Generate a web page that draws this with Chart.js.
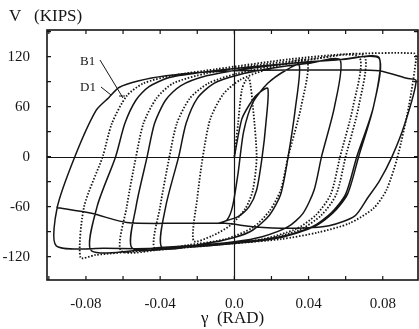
<!DOCTYPE html>
<html><head><meta charset="utf-8">
<script src="https://cdn.jsdelivr.net/npm/chart.js@4/dist/chart.umd.min.js"></script>
<style>html,body{margin:0;padding:0;background:#fff}#wrap{width:419px;height:329px;position:relative}</style>
</head><body><div id="wrap"><canvas id="c"></canvas></div>
<script>
// ---- tick labels ----
const xTickValues = [-0.08, -0.04, 0, 0.04, 0.08];
const xTickLabels = ['-0.08', '-0.04', '0.0', '0.04', '0.08'];
const xMinorTicks = [-0.1, -0.08, -0.06, -0.04, -0.02, 0, 0.02, 0.04, 0.06, 0.08];
const yTickValues = [-120, -60, 0, 60, 120];
const yTickLabels = ['-120', '-60', '0', '60', '120'];
const yMinorTicks = [-120, -90, -60, -30, 0, 30, 60, 90, 120, 150];

// ---- specimen B1 (solid): shear strain (rad) and shear (kips) ----
const b1Gamma = [0, 0.004, 0.008, 0.012, 0.018, 0.017, 0.015, 0.012, 0.008, 0.002, -0.009,
  -0.004, -0.001, 0.002, 0.005, 0.010, 0.018, 0.028, 0.035,
  0.033, 0.029, 0.025, 0.019, 0.010, 0.0, -0.015, -0.039,
  -0.037, -0.030, -0.026, -0.020, -0.011, 0.002, 0.020, 0.040, 0.057,
  0.054, 0.047, 0.043, 0.037, 0.029, 0.015, 0.0, -0.025, -0.055,
  -0.053, -0.047, -0.043, -0.037, -0.029, -0.015, 0.005, 0.035, 0.060, 0.078,
  0.075, 0.066, 0.060, 0.052, 0.042, 0.025, 0.0, -0.040, -0.077,
  -0.074, -0.064, -0.059, -0.053, -0.046, -0.035, -0.015, 0.020, 0.055, 0.078,
  0.075, 0.067, 0.061, 0.053, 0.043, 0.025, 0.0, -0.040, -0.070, -0.096,
  -0.0955, -0.086, -0.0747, -0.0676, -0.0622, -0.0514, -0.0368, -0.019, 0.0, 0.030, 0.060, 0.078, 0.093, 0.098,
  0.092, 0.085, 0.078, 0.072, 0.065, 0.051, 0.030, 0.010, -0.005, -0.030, -0.058, -0.077, -0.096];
const b1Shear = [0, 45, 62, 74, 82, 40, 0, -40, -60, -72, -80,
  -76, -60, -20, 30, 65, 88, 104, 110,
  60, 0, -45, -70, -88, -97, -104, -109,
  -60, 0, 40, 70, 88, 98, 106, 112, 116,
  60, 0, -40, -68, -84, -96, -102, -107, -110,
  -60, 0, 40, 68, 85, 97, 105, 113, 117, 119,
  60, 0, -45, -68, -84, -96, -103, -109, -113,
  -60, 0, 40, 68, 84, 95, 102, 110, 116, 118,
  60, 0, -45, -68, -84, -97, -104, -110, -110, -107,
  -61, 0, 55, 71, 83, 91, 97, 101, 103, 104, 104, 103, 94, 91,
  40, 0, -30, -49, -71, -83, -86, -84, -80, -80, -79, -68, -61];

// ---- specimen D1 (dotted) ----
const d1Gamma = [0, 0.002, 0.004, 0.006, 0.008, 0.010, 0.012, 0.010, 0.006, -0.002, -0.012, -0.022,
  -0.020, -0.017, -0.013, -0.006, 0.003, 0.018, 0.039,
  0.036, 0.029, 0.025, 0.019, 0.010, -0.005, -0.025, -0.043,
  -0.040, -0.035, -0.031, -0.024, -0.014, 0.002, 0.030, 0.067,
  0.064, 0.057, 0.052, 0.044, 0.033, 0.015, -0.010, -0.035, -0.061,
  -0.058, -0.053, -0.049, -0.042, -0.033, -0.015, 0.010, 0.045, 0.070,
  0.067, 0.060, 0.055, 0.047, 0.035, 0.015, -0.015, -0.050, -0.075, -0.083,
  -0.081, -0.071, -0.066, -0.058, -0.049, -0.034, -0.010, 0.030, 0.060, 0.097,
  0.098, 0.094, 0.088, 0.082, 0.075, 0.062, 0.045, 0.025, 0.0, -0.030];
const d1Shear = [0, 40, 80, 91, 94, 60, 0, -40, -62, -82, -95, -101,
  -50, 0, 45, 75, 92, 105, 115,
  60, 0, -40, -65, -85, -99, -106, -110,
  -60, 0, 40, 70, 88, 100, 112, 120,
  60, 0, -45, -70, -87, -99, -106, -110, -113,
  -60, 0, 40, 70, 88, 100, 109, 118, 121,
  60, 0, -45, -70, -88, -100, -107, -113, -118, -121,
  -60, 0, 40, 73, 88, 97, 105, 117, 123, 124,
  118, 60, 0, -40, -62, -80, -91, -99, -104, -109];

const toXY = (g, v) => g.map((x, i) => ({x: x, y: v[i]}));
const SERIF = '"Liberation Serif", "DejaVu Serif", serif';
const INK = '#151515';

const decor = {
  id: 'decor',
  beforeDatasetsDraw(chart) {
    const {ctx, chartArea: a, scales: {x, y}} = chart;
    ctx.save();
    ctx.strokeStyle = INK; ctx.lineWidth = 1.2;
    ctx.beginPath();
    const y0 = Math.round(y.getPixelForValue(0)) + 0.5;
    const x0 = Math.round(x.getPixelForValue(0)) + 0.5;
    ctx.moveTo(a.left, y0); ctx.lineTo(a.right, y0);
    ctx.moveTo(x0, a.top); ctx.lineTo(x0, a.bottom);
    ctx.stroke();
    ctx.restore();
  },
  afterDatasetsDraw(chart) {
    const {ctx, chartArea: a, scales: {x, y}} = chart;
    ctx.save();
    ctx.strokeStyle = INK; ctx.lineWidth = 1.6;
    ctx.strokeRect(a.left, a.top, a.right - a.left, a.bottom - a.top);
    ctx.lineWidth = 1.2;
    ctx.beginPath();
    xMinorTicks.forEach(v => {
      const px = x.getPixelForValue(v);
      if (px <= a.left + 1 || px >= a.right - 1) return;
      ctx.moveTo(px, a.bottom); ctx.lineTo(px, a.bottom - 4);
      ctx.moveTo(px, a.top); ctx.lineTo(px, a.top + 4);
    });
    yMinorTicks.forEach(v => {
      const py = y.getPixelForValue(v);
      if (py <= a.top + 1 || py >= a.bottom - 1) return;
      ctx.moveTo(a.left, py); ctx.lineTo(a.left + 4, py);
      ctx.moveTo(a.right, py); ctx.lineTo(a.right - 4, py);
    });
    ctx.stroke();
    // specimen labels with leaders
    ctx.fillStyle = INK;
    ctx.font = '13px ' + SERIF;
    ctx.textBaseline = 'middle';
    ctx.fillText('B1', 80, 62);
    ctx.fillText('D1', 80, 88);
    ctx.lineWidth = 1;
    ctx.beginPath();
    ctx.moveTo(100, 60); ctx.lineTo(123, 98);
    ctx.moveTo(119, 96); ctx.lineTo(125, 96);
    ctx.moveTo(101, 87); ctx.lineTo(111, 95);
    ctx.stroke();
    // y axis title
    ctx.font = '17px ' + SERIF;
    ctx.textBaseline = 'middle';
    ctx.fillText('V   (KIPS)', 9, 17);
    ctx.restore();
  }
};

new Chart(document.getElementById('c'), {
  type: 'scatter',
  data: {
    datasets: [
      {label: 'B1', data: toXY(b1Gamma, b1Shear), showLine: true, borderColor: INK, borderWidth: 1.5,
       pointRadius: 0, tension: 0.25, fill: false},
      {label: 'D1', data: toXY(d1Gamma, d1Shear), showLine: true, borderColor: INK, borderWidth: 1.8,
       borderDash: [1.5, 1.7], pointRadius: 0, tension: 0.25, fill: false}
    ]
  },
  options: {
    responsive: true, maintainAspectRatio: false, animation: false, devicePixelRatio: 1,
    layout: {padding: {top: 30, right: 1, bottom: 0, left: 0}},
    plugins: {legend: {display: false}, tooltip: {enabled: false}, title: {display: false}},
    scales: {
      x: {
        type: 'linear', min: -0.101, max: 0.099,
        afterBuildTicks(s) { s.ticks = xTickValues.map(v => ({value: v})); },
        afterFit(s) { s.height = 49; },
        grid: {display: false}, border: {display: false},
        ticks: {autoSkip: false, maxRotation: 0, padding: 7, color: INK, font: {family: SERIF, size: 15},
          callback: v => { const i = xTickValues.findIndex(t => Math.abs(t - v) < 1e-9); return i >= 0 ? xTickLabels[i] : ''; }},
        title: {display: true, text: 'γ  (RAD)', color: INK, font: {family: SERIF, size: 17}, padding: {top: 0, bottom: 0}}
      },
      y: {
        type: 'linear', min: -148, max: 152,
        afterBuildTicks(s) { s.ticks = yTickValues.map(v => ({value: v})); },
        afterFit(s) { s.width = 47; },
        grid: {display: false}, border: {display: false},
        ticks: {autoSkip: false, padding: 9, color: INK, font: {family: SERIF, size: 15},
          callback: v => { const i = yTickValues.indexOf(v); return i >= 0 ? yTickLabels[i] : ''; }}
      }
    }
  },
  plugins: [decor]
});
</script></body></html>
